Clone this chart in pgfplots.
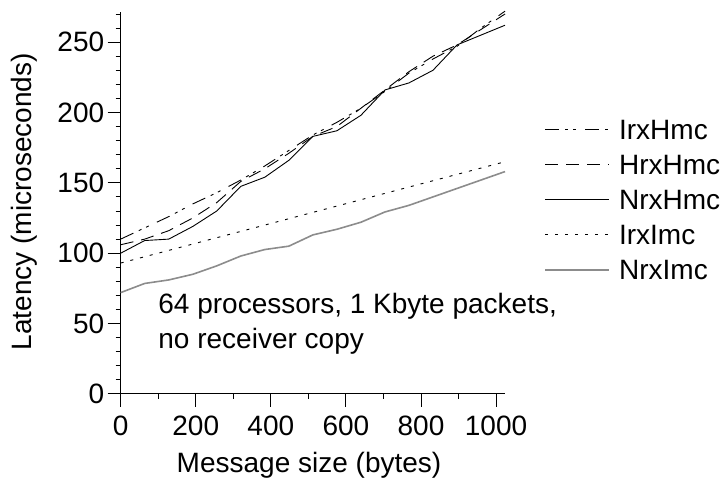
\documentclass[border=0pt]{standalone}
\usepackage{fontspec}
\setmainfont{Liberation Sans}
\usepackage{pgfplots}
\pgfplotsset{compat=1.18}
\begin{document}
\begin{tikzpicture}[font=\fontsize{28bp}{33bp}\selectfont]
\begin{axis}[
  scale only axis,
  width=384.3bp, height=382bp,
  xmin=0, xmax=1024, ymin=0, ymax=271.5,
  axis x line=bottom, axis y line=left,
  axis line style={-, line width=0.9bp},
  tick align=outside,
  major tick length=13bp, minor tick length=5bp,
  every tick/.style={black, line width=0.9bp},
  xtick={0,200,...,1000}, minor xtick={100,300,...,900},
  ytick={0,50,...,250}, minor ytick={10,20,...,270},
  /pgf/number format/assume math mode=true,
  /pgf/number format/1000 sep={},
  tick label style={font=\fontsize{28bp}{33bp}\selectfont},
  xticklabel style={yshift=-5bp},
  xlabel={Message size (bytes)},
  ylabel={Latency (microseconds)},
  xlabel style={at={(axis description cs:0.49,-0.205)}, anchor=base},
  ylabel style={at={(axis description cs:-0.232,0.503)}, anchor=base},
  clip=false,
  legend cell align=left,
  legend style={at={(axis description cs:1.102,0.718)}, anchor=north west,
    draw=none, fill=none, inner sep=0pt, row sep=15bp, column sep=9bp,
    font=\fontsize{28bp}{33bp}\selectfont,
    nodes={inner sep=0pt, text height=20bp, text depth=0bp}},
  legend image code/.code={\draw[#1] (0bp,0bp) -- (64bp,0bp);},
]
\addplot[black, line width=0.9bp, dash pattern=on 14bp off 6bp on 3bp off 5bp on 3bp off 9bp] coordinates {
(0,110) (64,118) (128,126) (192,135) (256,143) (320,152) (384,162) (448,173) (512,184) (576,193) (640,203) (704,215) (768,228) (832,238) (896,247) (960,260) (1024,272)};
\addlegendentry{IrxHmc}
\addplot[black, line width=0.9bp, dash pattern=on 13bp off 8bp] coordinates {
(0,106) (64,110) (128,116) (192,125) (256,136) (320,151) (384,160) (448,171) (512,183) (576,190) (640,203) (704,216) (768,229) (832,240) (896,248) (960,259) (1024,270)};
\addlegendentry{HrxHmc}
\addplot[black, line width=0.9bp] coordinates {
(0,100) (64,109) (128,110) (192,119) (256,130) (320,147.5) (384,154) (448,166) (512,183) (576,187) (640,198) (704,216) (768,221) (832,230) (896,248) (960,255) (1024,262)};
\addlegendentry{NrxHmc}
\addplot[black, line width=0.9bp, dash pattern=on 3bp off 7bp] coordinates {
(0,93) (64,97.5) (128,102) (192,106.5) (256,111) (320,115.5) (384,120) (448,124.5) (512,129) (576,133.5) (640,138) (704,142.5) (768,147) (832,151.5) (896,156) (960,160.5) (1024,165)};
\addlegendentry{IrxImc}
\addplot[black!45, line width=1.6bp] coordinates {
(0,72) (64,78.5) (128,81) (192,85) (256,91) (320,98) (384,102.6) (448,105) (512,113) (576,117) (640,122) (704,129.3) (768,134) (832,140) (896,146) (960,152) (1024,158)};
\addlegendentry{NrxImc}
\node[anchor=base west, inner sep=0pt] at (axis cs:100,57) {64 processors, 1 Kbyte packets,};
\node[anchor=base west, inner sep=0pt] at (axis cs:100,32) {no receiver copy};
\coordinate (bbSW) at (rel axis cs:-0.314,-0.225);
\coordinate (bbNE) at (rel axis cs:1.580,1.031);
\end{axis}
\pgfresetboundingbox
\useasboundingbox (bbSW) rectangle (bbNE);
\end{tikzpicture}
\end{document}
